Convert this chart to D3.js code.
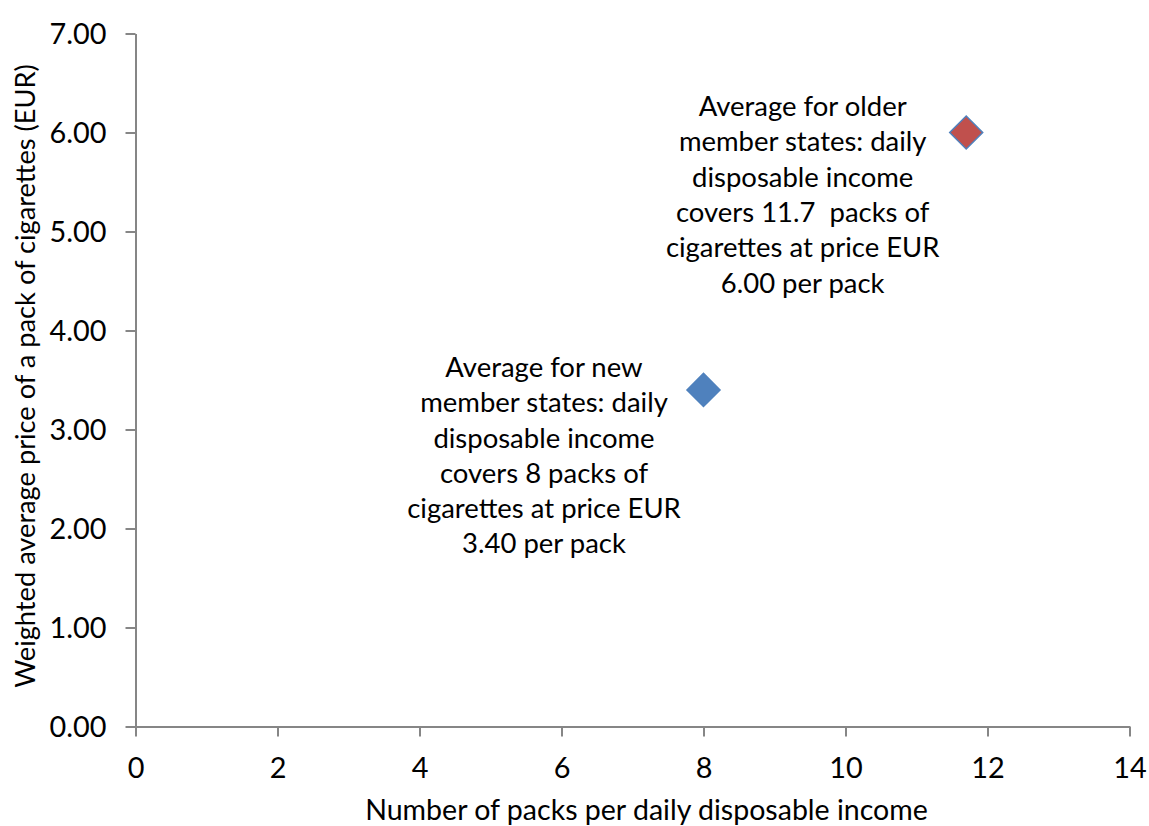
<!DOCTYPE html>
<html>
<head>
<meta charset="utf-8">
<script src="https://cdn.jsdelivr.net/npm/d3@7"></script>
<style>
  html, body { margin: 0; padding: 0; background: #fff; }
  svg { display: block; font-family: Lato, "Open Sans", sans-serif; }
</style>
</head>
<body>
<svg id="chart" width="1149" height="826"></svg>
<script>
// Groups of member states: packs per daily disposable income vs. average pack price
const groups = ["new", "older"];
const packs = [8, 11.7];
const prices = [3.40, 6.00];
const colors = ["#4F81BD", "#C0504D"];
const notes = [
  ["Average for new", "member states: daily", "disposable income", "covers 8 packs of", "cigarettes at price EUR", "3.40 per pack"],
  ["Average for older", "member states: daily", "disposable income", "covers 11.7  packs of", "cigarettes at price EUR", "6.00 per pack"]
];
const xTicks = [0, 2, 4, 6, 8, 10, 12, 14];
const yTicks = [0, 1, 2, 3, 4, 5, 6, 7];
const xTitle = "Number of packs per daily disposable income";
const yTitle = "Weighted average price of a pack of cigarettes (EUR)";

const svg = d3.select("#chart");
const plotLeft = 135.5, plotRight = 1129.5, plotTop = 33.5, plotBottom = 726.5;

const x = d3.scaleLinear().domain([0, 14]).range([plotLeft, plotRight]);
const y = d3.scaleLinear().domain([0, 7]).range([plotBottom, plotTop]);

const axisColor = "#868686";

// pick a font size so that a text node spans the given width
function fitSize(sel, base, width) {
  sel.style("font-size", base + "px");
  const w = sel.node().getComputedTextLength();
  const s = base * width / w;
  sel.style("font-size", s + "px");
  return s;
}

const xAxis = svg.append("g")
  .attr("transform", `translate(0,${plotBottom})`)
  .call(d3.axisBottom(x).tickValues(xTicks).tickFormat(d3.format("d")).tickSize(10).tickSizeOuter(0));
const yAxis = svg.append("g")
  .attr("transform", `translate(${plotLeft},0)`)
  .call(d3.axisLeft(y).tickValues(yTicks).tickFormat(d3.format(".2f")).tickSize(10).tickSizeOuter(0));

[xAxis, yAxis].forEach(g => {
  g.attr("font-family", null).attr("font-size", null);
  g.selectAll("path, line").attr("stroke", axisColor).attr("stroke-width", 2);
  g.selectAll("text").attr("fill", "#000");
});
const tickSize = fitSize(yAxis.select(".tick text"), 26, 57);
svg.selectAll(".tick text").style("font-size", tickSize + "px");
xAxis.selectAll("text").attr("y", 0).attr("dy", null).attr("dominant-baseline", "alphabetic")
  .attr("transform", "translate(0,51)");
yAxis.selectAll("text").attr("x", -29).attr("dy", "0.36em");

// axis titles
const xt = svg.append("text")
  .attr("x", 646.5)
  .attr("y", 820)
  .attr("text-anchor", "middle")
  .text(xTitle);
fitSize(xt, 26, 563);
const yt = svg.append("text")
  .attr("transform", `translate(35,376) rotate(-90)`)
  .attr("text-anchor", "middle")
  .text(yTitle);
fitSize(yt, 26, 624);

// diamonds
const diamond = d3.symbol().type(d3.symbolSquare).size(545);
svg.selectAll("path.pt")
  .data(groups)
  .join("path")
  .attr("class", "pt")
  .attr("d", diamond)
  .attr("transform", (d, i) => `translate(${x(packs[i])},${y(prices[i])}) rotate(45)`)
  .attr("fill", (d, i) => colors[i])
  .attr("stroke", "#4F81BD")
  .attr("stroke-width", 1.5);

// annotations, placed left of each point
const noteDx = [-159.5, -163.5];
const noteDy = [-13, -16.5];
const probe = svg.append("text").text(notes[1][0]);
const noteSize = fitSize(probe, 26, 208);
probe.remove();
groups.forEach((g, i) => {
  const t = svg.append("text")
    .attr("text-anchor", "middle")
    .style("font-size", noteSize + "px");
  notes[i].forEach((line, j) => {
    t.append("tspan")
      .attr("x", x(packs[i]) + noteDx[i])
      .attr("y", y(prices[i]) + noteDy[i] + j * 35.3)
      .attr("xml:space", "preserve")
      .text(line);
  });
});
</script>
</body>
</html>
